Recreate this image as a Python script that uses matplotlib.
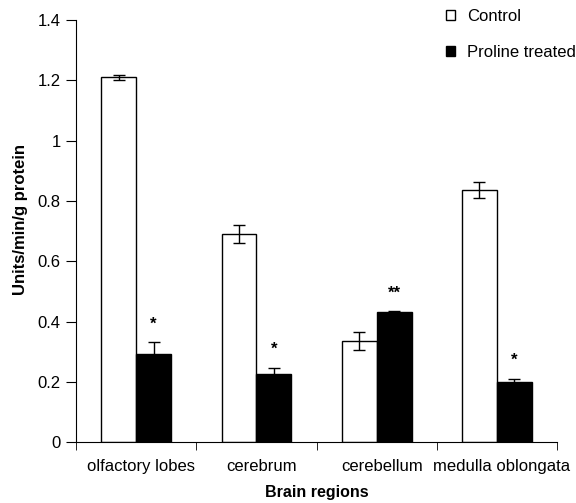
import numpy as np
import matplotlib
matplotlib.use("Agg")
import matplotlib.pyplot as plt
import matplotlib.transforms as mtransforms
from matplotlib.patches import Patch

# data
regions = ["olfactory lobes", "cerebrum", "cerebellum", "medulla oblongata"]
control = [1.21, 0.689, 0.337, 0.836]
control_err = [0.007, 0.03, 0.03, 0.027]
treated = [0.294, 0.225, 0.432, 0.198]
treated_err = [0.038, 0.022, 0.003, 0.013]
marks = ["*", "*", "**", "*"]

plt.rcParams['font.family'] = ['Liberation Sans', 'DejaVu Sans']

fig = plt.figure(figsize=(5.76, 5.03), dpi=100)
ax = fig.add_axes([0.132, 0.121, 0.835, 0.839])

x = np.arange(len(regions)) + 0.5
w = 0.29

ax.bar(x - w/2, control, w, color="white", edgecolor="black", linewidth=1.0,
       yerr=control_err, capsize=4, error_kw=dict(elinewidth=1, capthick=1))
ax.bar(x + w/2, treated, w, color="black", edgecolor="black", linewidth=1.0,
       yerr=treated_err, capsize=4, error_kw=dict(elinewidth=1, capthick=1))

for xi, v, e, m in zip(x + w/2, treated, treated_err, marks):
    ax.text(xi, v + e + 0.035, m, ha="center", va="bottom", fontsize=12, fontweight="bold")

ax.set_xlim(0, len(regions))
ax.set_ylim(0, 1.4)
ax.set_yticks([0, 0.2, 0.4, 0.6, 0.8, 1.0, 1.2, 1.4])
ax.set_yticklabels(["0", "0.2", "0.4", "0.6", "0.8", "1", "1.2", "1.4"])
ax.set_xticks(x)
ax.set_xticklabels(regions)
ax.set_xticks(np.arange(len(regions) + 1), minor=True)
ax.tick_params(axis="x", which="major", length=0, pad=12, labelsize=12)
ax.tick_params(axis="x", which="minor", length=6, direction="out")
ax.tick_params(axis="y", length=7, pad=4, labelsize=12)

# category labels sit a little right of centre in the original
shift = mtransforms.ScaledTranslation(5/100, 0, fig.dpi_scale_trans)
for lab in ax.get_xticklabels():
    lab.set_transform(lab.get_transform() + shift)

ax.spines["top"].set_visible(False)
ax.spines["right"].set_visible(False)

ax.set_ylabel("Units/min/g protein", fontweight="bold", fontsize=12)
ax.yaxis.set_label_coords(-0.10, 0.528)
ax.set_xlabel("Brain regions", fontweight="bold", fontsize=11.5, labelpad=8)

handles = [Patch(facecolor="white", edgecolor="black"), Patch(facecolor="black", edgecolor="black")]
fig.legend(handles, ["Control", "Proline treated"], loc="upper left",
           bbox_to_anchor=(0.748, 1.012), frameon=False, fontsize=12,
           handlelength=0.55, handleheight=0.55, handletextpad=0.7, labelspacing=1.25)

fig.savefig("out.png", dpi=100)
